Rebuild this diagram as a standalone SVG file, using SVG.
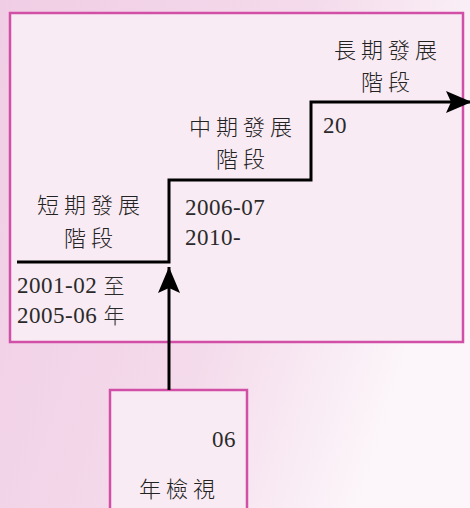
<svg xmlns="http://www.w3.org/2000/svg" width="470" height="508" viewBox="0 0 470 508">
<defs>
<linearGradient id="bg" x1="0" y1="0" x2="1" y2="0.35">
<stop offset="0" stop-color="#f0cde4"/>
<stop offset="0.6" stop-color="#f4dbeb"/>
<stop offset="1" stop-color="#fcf6fa"/>
</linearGradient>
<marker id="ah" viewBox="0 0 26 22" refX="26" refY="11" markerWidth="26" markerHeight="22" markerUnits="userSpaceOnUse" orient="auto">
<path d="M0,0 L26,11 L0,22 L5,11 Z" fill="#000"/>
</marker>
<style>
.box{fill:#f9ebf4;stroke:#d24fa8;stroke-width:2.5}
.cn{font-family:"Noto Sans CJK TC","Noto Sans CJK SC",sans-serif;font-size:22px;font-weight:300;fill:#222;letter-spacing:5px}
.num{font-family:"Liberation Serif",serif;font-size:23px;fill:#2a2a2a;letter-spacing:0.5px}
.cj{font-family:"Noto Sans CJK TC","Noto Sans CJK SC",sans-serif;font-weight:300;font-size:21px}
.ln{fill:none;stroke:#000;stroke-width:3}
</style>
</defs>
<rect width="470" height="508" fill="url(#bg)"/>
<g id="main">
<rect class="box" x="10" y="13" width="453" height="329"/>
</g>
<g id="review">
<rect class="box" x="110" y="390" width="137" height="130"/>
<text class="num" x="236" y="447" text-anchor="end">06</text>
<text class="cn" x="139" y="497" letter-spacing="2">年檢視</text>
</g>
<g id="long">
<text class="cn" x="388" y="58" text-anchor="middle">長期發展</text>
<text class="cn" x="388" y="90" text-anchor="middle">階段</text>
<text class="num" x="323" y="133">20</text>
</g>
<g id="mid">
<text class="cn" x="243" y="135" text-anchor="middle">中期發展</text>
<text class="cn" x="243" y="167" text-anchor="middle">階段</text>
<text class="num" x="185" y="215">2006-07</text>
<text class="num" x="185" y="245">2010-</text>
</g>
<g id="short">
<text class="cn" x="91" y="213" text-anchor="middle">短期發展</text>
<text class="cn" x="91" y="246" text-anchor="middle">階段</text>
<text class="num" x="17" y="293">2001-02 <tspan class="cj">至</tspan></text>
<text class="num" x="17" y="323">2005-06 <tspan class="cj">年</tspan></text>
</g>
<g id="connectors">
<path class="ln" d="M17,262 H169 V180 H311 V102 H472" marker-end="url(#ah)"/>
<path class="ln" d="M169,390 V267" marker-end="url(#ah)"/>
</g>
</svg>
